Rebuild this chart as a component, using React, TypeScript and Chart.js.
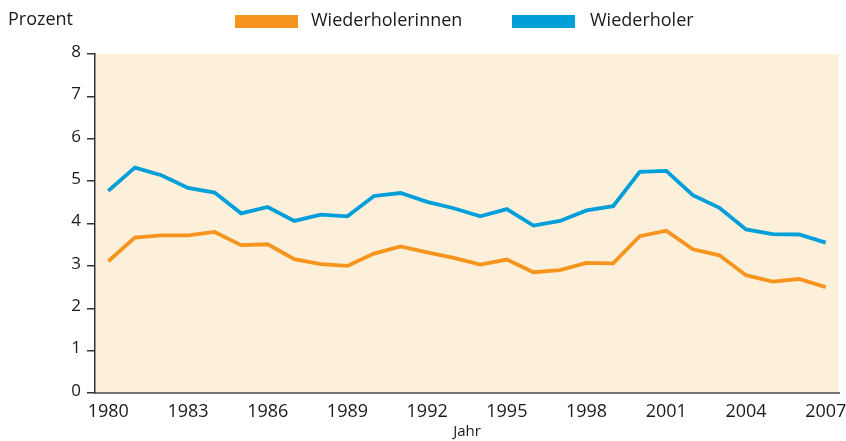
import React, { useEffect, useRef } from 'react';
import { Chart, registerables } from 'chart.js';

Chart.register(...registerables);

const years = [
  '1980', '1981', '1982', '1983', '1984', '1985', '1986', '1987', '1988', '1989',
  '1990', '1991', '1992', '1993', '1994', '1995', '1996', '1997', '1998', '1999',
  '2000', '2001', '2002', '2003', '2004', '2005', '2006', '2007',
];

const wiederholerinnen = [
  3.11, 3.67, 3.72, 3.72, 3.80, 3.49, 3.51, 3.16, 3.04, 3.00,
  3.29, 3.46, 3.32, 3.19, 3.03, 3.15, 2.85, 2.90, 3.07, 3.06,
  3.70, 3.83, 3.39, 3.25, 2.78, 2.63, 2.69, 2.50,
];

const wiederholer = [
  4.77, 5.32, 5.14, 4.84, 4.73, 4.24, 4.39, 4.06, 4.21, 4.17,
  4.65, 4.72, 4.51, 4.36, 4.17, 4.34, 3.95, 4.06, 4.31, 4.41,
  5.22, 5.24, 4.67, 4.37, 3.86, 3.75, 3.74, 3.55,
];

const seriesLabels = ['Wiederholerinnen', 'Wiederholer'];
const yAxisLabel = 'Prozent';
const xAxisLabel = 'Jahr';

const ORANGE = '#F7941D';
const BLUE = '#009FDA';
const CREAM = '#FDF0DA';
const TEXT = '#1a1a1a';
const FONT = '"Open Sans", "Noto Sans", sans-serif';

export default function App() {
  const ref = useRef<HTMLCanvasElement | null>(null);

  useEffect(() => {
    document.body.style.margin = '0';
    const canvas = ref.current;
    if (!canvas) return;

    const bgPlugin = {
      id: 'plotBg',
      beforeDraw(chart: any) {
        const { ctx, chartArea: a } = chart;
        ctx.save();
        ctx.fillStyle = CREAM;
        ctx.fillRect(a.left, a.top, a.right - a.left, a.bottom - a.top);
        ctx.restore();
      },
    };

    const legendPlugin = {
      id: 'customLegend',
      afterDraw(chart: any) {
        const { ctx } = chart;
        ctx.save();
        ctx.font = `18px ${FONT}`;
        ctx.textBaseline = 'middle';
        ctx.textAlign = 'left';
        ctx.fillStyle = TEXT;
        ctx.fillText(yAxisLabel, 8, 20);
        const items = [
          { box: 235, text: 311, color: ORANGE, label: chart.data.datasets[0].label },
          { box: 512, text: 590, color: BLUE, label: chart.data.datasets[1].label },
        ];
        for (const it of items) {
          ctx.fillStyle = it.color;
          ctx.fillRect(it.box, 15, 63, 13);
          ctx.fillStyle = TEXT;
          ctx.fillText(it.label, it.text, 21);
        }
        ctx.restore();
      },
    };

    const chart = new Chart(canvas, {
      type: 'line',
      data: {
        labels: years,
        datasets: [
          {
            label: seriesLabels[0],
            data: wiederholerinnen,
            borderColor: ORANGE,
            backgroundColor: ORANGE,
            borderWidth: 3.8,
            pointRadius: 0,
            tension: 0,
          },
          {
            label: seriesLabels[1],
            data: wiederholer,
            borderColor: BLUE,
            backgroundColor: BLUE,
            borderWidth: 3.8,
            pointRadius: 0,
            tension: 0,
          },
        ],
      },
      options: {
        animation: false,
        responsive: false,
        layout: { padding: { top: 54, right: 7, bottom: 0, left: 0 } },
        plugins: {
          legend: { display: false },
          tooltip: { enabled: false },
        },
        scales: {
          x: {
            type: 'category',
            offset: true,
            grid: { display: false, drawTicks: false },
            border: { display: true, color: '#777', width: 2 },
            ticks: {
              autoSkip: false,
              maxRotation: 0,
              padding: 8,
              color: TEXT,
              font: { family: FONT, size: 18 },
              callback: (_v: any, i: number) => (i % 3 === 0 ? years[i] : ''),
            },
            title: {
              display: true,
              text: xAxisLabel,
              color: TEXT,
              font: { family: FONT, size: 15 },
              padding: { top: 0, bottom: 0 },
            },
            afterFit: (s: any) => {
              s.height = 48;
              s.paddingLeft = 0;
              s.paddingRight = 0;
            },
          },
          y: {
            min: 0,
            max: 8,
            grid: {
              display: true,
              drawOnChartArea: false,
              drawTicks: true,
              tickLength: 8,
              color: '#333',
              lineWidth: 1.5,
            },
            border: { display: true, color: '#333', width: 1.5 },
            ticks: {
              stepSize: 1,
              padding: 6,
              labelOffset: -2,
              color: TEXT,
              font: { family: FONT, size: 17 },
            },
            afterFit: (s: any) => {
              s.width = 95;
              s.paddingTop = 0;
              s.paddingBottom = 0;
            },
          },
        },
      },
      plugins: [bgPlugin, legendPlugin],
    });

    return () => chart.destroy();
  }, []);

  return (
    <div style={{ width: 846, height: 441 }}>
      <canvas ref={ref} width={846} height={441} style={{ display: 'block' }} />
    </div>
  );
}
